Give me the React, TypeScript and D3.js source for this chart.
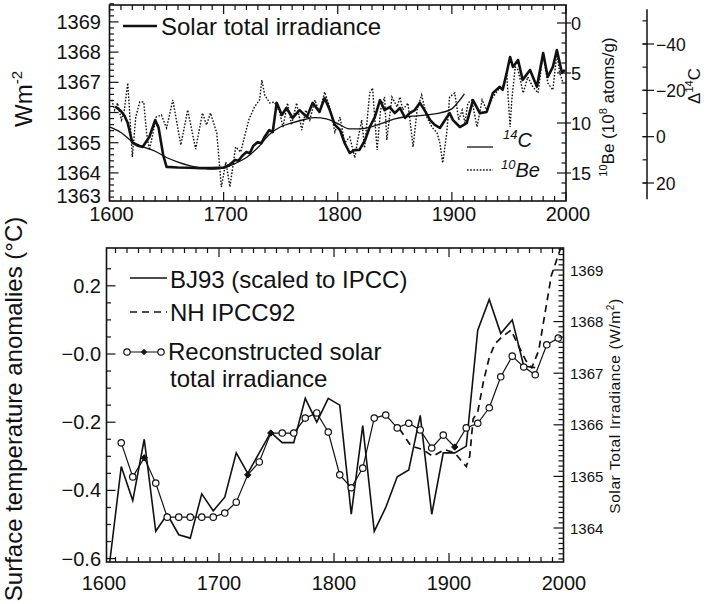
import React from "react";
import * as d3 from "d3";

// ---------- Upper panel data ----------
// Reconstructed solar total irradiance (W m^-2)
const solarIrradiance: [number, number][] = [
  [1605, 1366.2], [1610, 1366.05], [1613, 1365.9], [1616, 1365.65], [1620, 1365.0], [1625, 1364.9],
  [1629, 1364.86], [1635, 1365.2], [1640, 1365.75], [1643, 1365.5], [1647, 1364.6], [1650, 1364.2],
  [1660, 1364.18], [1670, 1364.17], [1680, 1364.16], [1690, 1364.16], [1700, 1364.18], [1705, 1364.26],
  [1710, 1364.43], [1713, 1364.4], [1716, 1364.55], [1720, 1364.69], [1723, 1364.65], [1726, 1364.9],
  [1730, 1365.02], [1733, 1364.98], [1736, 1365.2], [1740, 1365.42], [1743, 1365.35], [1746.5, 1366.32],
  [1751, 1365.92], [1755, 1366.15], [1760.5, 1365.82], [1766.5, 1366.08], [1773, 1365.85], [1778, 1366.32],
  [1784, 1366.02], [1788.5, 1366.48], [1793, 1366.08], [1797.5, 1365.59], [1802, 1365.42], [1806, 1364.99],
  [1810.5, 1364.66], [1815, 1364.76], [1819, 1364.76], [1824, 1365.09], [1828, 1365.52], [1832.5, 1365.85],
  [1837, 1366.41], [1841, 1366.08], [1845.5, 1366.18], [1850, 1365.98], [1854.5, 1366.15], [1859, 1365.82],
  [1863, 1365.98], [1867.5, 1366.08], [1872, 1366.32], [1876, 1366.08], [1881, 1365.75], [1885, 1365.59],
  [1889.5, 1365.49], [1894, 1365.75], [1898, 1365.98], [1901, 1365.75], [1907, 1365.52], [1913, 1365.65],
  [1918.5, 1366.41], [1924.5, 1365.98], [1930.5, 1366.02], [1936, 1366.65], [1942, 1366.85], [1944.5, 1366.75],
  [1948, 1367.31], [1951, 1367.84], [1953.5, 1367.51], [1958, 1367.74], [1962, 1367.08], [1968.5, 1367.41],
  [1974.5, 1366.85], [1980, 1367.97], [1984, 1367.18], [1988.5, 1367.51], [1992, 1368.07], [1996.5, 1367.31],
  [1999, 1367.41],
];

// Delta 14C (per mil), smoothed
const delta14C: [number, number][] = [
  [1600, -4.2], [1610, -1.8], [1620, 2.2], [1630, 4.5], [1640, 6.3], [1650, 9.0], [1660, 11.0],
  [1670, 12.5], [1680, 13.5], [1690, 14.0], [1700, 13.6], [1710, 11.6], [1720, 9.0], [1730, 4.7],
  [1740, -0.9], [1750, -4.3], [1760, -6.0], [1770, -7.3], [1780, -8.2], [1790, -7.7], [1800, -5.6],
  [1810, -3.4], [1820, -3.4], [1830, -4.3], [1840, -6.0], [1850, -7.7], [1860, -8.6], [1870, -9.0],
  [1880, -9.5], [1890, -10.3], [1900, -12.0], [1905, -14.6], [1911, -18.5],
];

// 10Be concentration (10^8 atoms/g)
const beryllium10: [number, number][] = [
  [1602, 7.7], [1604.5, 8.7], [1607, 8.0], [1610.5, 9.7], [1613, 8.7], [1616, 6.0], [1617.5, 8.7],
  [1620, 13.4], [1623, 9.4], [1626.5, 7.9], [1630, 7.9], [1632.5, 11.0], [1635, 12.7], [1641, 9.4],
  [1645.5, 9.2], [1650, 10.5], [1655.5, 7.7], [1662.5, 12.2], [1668.5, 8.7], [1675.5, 12.6], [1681.5, 9.0],
  [1685, 10.2], [1688.5, 9.0], [1694, 11.0], [1698, 16.4], [1702, 13.9], [1705.5, 16.4], [1710.5, 12.4],
  [1715, 12.9], [1722, 9.7], [1727, 8.4], [1731.5, 7.7], [1733.5, 5.7], [1736, 7.2], [1740.5, 8.0],
  [1744.5, 7.9], [1749, 8.9], [1752, 10.4], [1756, 8.0], [1759.5, 10.2], [1764, 8.0], [1768.5, 10.7],
  [1772, 8.7], [1775.5, 9.7], [1780, 7.7], [1784, 9.0], [1788.5, 6.9], [1793, 8.4], [1797.5, 10.9],
  [1802, 9.4], [1806, 12.0], [1810.5, 11.4], [1815, 13.5], [1817.5, 11.7], [1821, 9.7], [1823.5, 12.5],
  [1828, 7.0], [1830.5, 6.5], [1833, 10.4], [1834.5, 12.7], [1837.5, 8.7], [1841, 7.4], [1843, 11.7],
  [1847.5, 7.4], [1852, 8.4], [1854.5, 7.4], [1857, 8.7], [1861.5, 8.0], [1866, 12.4], [1869.5, 8.7],
  [1873.5, 7.2], [1878, 9.4], [1882.5, 10.4], [1887, 11.0], [1889.5, 12.0], [1892, 14.0], [1895.5, 11.0],
  [1898, 7.4], [1902.5, 7.0], [1906, 9.7], [1909, 8.7], [1911.5, 10.0], [1914, 8.0], [1917.5, 7.7],
  [1922, 10.4], [1926.5, 7.7], [1930.5, 8.7], [1936, 7.4], [1940.5, 6.7], [1944.5, 6.4], [1948, 5.0],
  [1951, 10.4], [1952.5, 7.7], [1955.5, 4.4], [1958, 4.7], [1962.5, 7.0], [1966.5, 5.4], [1971, 6.4],
  [1975.5, 7.0], [1980, 3.0], [1984, 6.0], [1988.5, 6.7], [1992, 3.0], [1994.5, 5.0], [1997.5, 6.0],
];

// ---------- Lower panel data ----------
// BJ93 decadal temperature anomalies (scaled to IPCC), degC
const bj93: [number, number][] = [
  [1605, -0.61], [1615, -0.33], [1625, -0.43], [1635, -0.25], [1645, -0.52], [1655, -0.47],
  [1665, -0.53], [1675, -0.54], [1685, -0.41], [1695, -0.46], [1705, -0.42], [1715, -0.29],
  [1725, -0.35], [1735, -0.29], [1745, -0.23], [1755, -0.26], [1765, -0.26], [1775, -0.13],
  [1785, -0.2], [1795, -0.13], [1805, -0.15], [1815, -0.47], [1825, -0.21], [1835, -0.52],
  [1845, -0.45], [1855, -0.36], [1865, -0.34], [1875, -0.18], [1885, -0.47], [1895, -0.29],
  [1905, -0.29], [1915, -0.27], [1925, 0.07], [1935, 0.16], [1945, 0.06], [1955, 0.1],
  [1965, -0.035], [1975, -0.04],
];

// NH IPCC92 temperature anomalies, degC
const nhIpcc92: [number, number][] = [
  [1857, -0.22], [1867, -0.27], [1877, -0.28], [1886, -0.3], [1896, -0.28], [1905, -0.29],
  [1910, -0.31], [1915, -0.33], [1918, -0.3], [1921, -0.19], [1925, -0.17], [1930, -0.08],
  [1935, -0.01], [1940, 0.03], [1946, 0.05], [1954, 0.07], [1961, 0.02], [1967, -0.02],
  [1972, -0.04], [1978, 0.01], [1984, 0.13], [1989, 0.23], [1993, 0.27], [1997, 0.31],
];

// Decadal reconstructed solar total irradiance, W m^-2
const reconYears = d3.range(1615, 2000, 10);
const reconValues = [
  1365.65, 1364.99, 1365.36, 1364.87, 1364.21, 1364.21, 1364.21, 1364.21, 1364.21, 1364.29,
  1364.5, 1365.03, 1365.28, 1365.84, 1365.84, 1365.84, 1366.13, 1366.23, 1365.86, 1365.03,
  1364.78, 1365.16, 1366.13, 1366.19, 1365.94, 1366.03, 1365.9, 1365.55, 1365.8, 1365.57,
  1365.94, 1366.03, 1366.33, 1366.93, 1367.33, 1367.12, 1366.97, 1367.55, 1367.68,
];
const reconFilledYears = [1635, 1725, 1745, 1905];

// ---------- Axis ticks ----------
const yearTicks = [1600, 1700, 1800, 1900, 2000];
const wmTicks = [1363, 1364, 1365, 1366, 1367, 1368, 1369];
const beTicks = [0, 5, 10, 15];
const c14Ticks = [-40, -20, 0, 20];
const c14TickLabels = ["\u221240", "\u221220", "0", "20"];
const tempTicks = [0.2, 0, -0.2, -0.4, -0.6];
const tempTickLabels = ["0.2", "\u22120.0", "\u22120.2", "\u22120.4", "\u22120.6"];
const tsiTicks = [1364, 1365, 1366, 1367, 1368, 1369];

const FONT = "'Liberation Sans', Arial, Helvetica, sans-serif";
const INK = "#111";

// frame geometry
const T = { left: 109.5, right: 566, top: 5, bottom: 201 };
const B = { left: 106.5, right: 563.5, top: 248, bottom: 562 };
const C14_AXIS_X = 647;

export default function App() {
  // upper panel scales
  const tx = d3.scaleLinear().domain([1600, 2000]).range([T.left, T.right]);
  const yWm = d3.scaleLinear().domain([1363.07, 1369.56]).range([T.bottom, T.top]);
  const yBe = d3.scaleLinear().domain([0, 15]).range([23, 173]);
  const yC14 = d3.scaleLinear().domain([-40, 20]).range([44, 183]);

  // lower panel scales
  const bx = d3.scaleLinear().domain([1600, 2000]).range([104, 564]);
  const yTemp = d3.scaleLinear().domain([-0.6, 0.2]).range([558.6, 285.8]);
  const yTsi = d3.scaleLinear().domain([1364, 1369]).range([528, 270]);

  const solarPath = d3.line<[number, number]>().x((d) => tx(d[0])).y((d) => yWm(d[1]))(solarIrradiance)!;
  const c14Path = d3
    .line<[number, number]>()
    .curve(d3.curveMonotoneX)
    .x((d) => tx(d[0]))
    .y((d) => yC14(d[1]))(delta14C)!;
  const bePath = d3.line<[number, number]>().x((d) => tx(d[0])).y((d) => yBe(d[1]))(beryllium10)!;

  const bjPath = d3.line<[number, number]>().x((d) => bx(d[0])).y((d) => yTemp(d[1]))(bj93)!;
  const ipccPath = d3.line<[number, number]>().x((d) => bx(d[0])).y((d) => yTemp(d[1]))(nhIpcc92)!;
  const reconPts = reconYears.map((yr, i) => [bx(yr), yTsi(reconValues[i]), yr] as [number, number, number]);
  const reconPath = d3.line<[number, number, number]>().x((d) => d[0]).y((d) => d[1])(reconPts)!;

  const near = (v: number, step: number) => Math.abs(v / step - Math.round(v / step)) < 1e-6;

  // tick sets
  const decades = d3.range(1600, 2001, 10);
  const wmMinor = d3.range(0, 33).map((i) => 1363.2 + i * 0.2);
  const beMinor = d3.range(-1, 18);
  const c14Minor = d3.range(-50, 21, 10);
  const tempMinor = d3.range(0, 18).map((i) => -0.6 + i * 0.05);
  const tsiMinor = d3.range(0, 61).map((i) => 1363.4 + i * 0.1);

  const line = (x1: number, y1: number, x2: number, y2: number, key: string, w = 1.2) => (
    <line key={key} x1={x1} y1={y1} x2={x2} y2={y2} stroke={INK} strokeWidth={w} />
  );

  const diamond = (x: number, y: number, r: number) => `M${x},${y - r}L${x + r},${y}L${x},${y + r}L${x - r},${y}Z`;

  return (
    <svg
      width={706}
      height={604}
      viewBox="0 0 706 604"
      style={{ position: "absolute", left: 0, top: 0, display: "block" }}
      fontFamily={FONT}
    >
      <rect x={0} y={0} width={706} height={604} fill="#fff" />
      <defs>
        <clipPath id="clipTop">
          <rect x={T.left} y={T.top} width={T.right - T.left} height={T.bottom - T.top} />
        </clipPath>
        <clipPath id="clipBottom">
          <rect x={B.left} y={B.top} width={B.right - B.left} height={B.bottom - B.top} />
        </clipPath>
      </defs>

      {/* ================= Upper panel ================= */}
      <g clipPath="url(#clipTop)" fill="none">
        <path d={bePath} stroke={INK} strokeWidth={1.4} strokeDasharray="1.6 1.6" />
        <path d={c14Path} stroke={INK} strokeWidth={1.3} />
        <path d={solarPath} stroke={INK} strokeWidth={2.6} strokeLinejoin="round" />
      </g>
      <rect x={T.left} y={T.top} width={T.right - T.left} height={T.bottom - T.top} fill="none" stroke={INK} strokeWidth={1.6} />

      {/* year ticks top & bottom */}
      {decades.map((yr) => {
        const x = tx(yr);
        const len = yr % 100 === 0 ? 9 : 5;
        return (
          <g key={`tt${yr}`}>
            {line(x, T.top, x, T.top + len, `a${yr}`)}
            {line(x, T.bottom, x, T.bottom - len, `b${yr}`)}
          </g>
        );
      })}
      {/* left irradiance axis ticks */}
      {wmMinor.map((v) => {
        const y = yWm(v);
        const major = near(v, 1);
        return line(T.left, y, T.left + (major ? 9 : 4.5), y, `wm${v.toFixed(1)}`);
      })}
      {wmTicks.map((v) => (
        <text key={`wl${v}`} x={101} y={Math.min(yWm(v) + 7, 203)} fontSize={20} textAnchor="end" fill={INK}>
          {v}
        </text>
      ))}
      {/* right 10Be axis ticks */}
      {beMinor.map((v) => {
        const y = yBe(v);
        const major = v % 5 === 0;
        return major
          ? line(T.right - 9, y, T.right + 5, y, `be${v}`)
          : line(T.right - 4.5, y, T.right, y, `be${v}`);
      })}
      {beTicks.map((v) => (
        <text key={`bl${v}`} x={571} y={yBe(v) + 6.5} fontSize={18} fill={INK}>
          {v}
        </text>
      ))}
      {/* separate Delta 14C axis */}
      {line(C14_AXIS_X, yC14(-55), C14_AXIS_X, yC14(27), "c14axis", 1.5)}
      {c14Minor.map((v) => line(C14_AXIS_X - 4.5, yC14(v), C14_AXIS_X, yC14(v), `c14m${v}`))}
      {c14Ticks.map((v, i) => (
        <g key={`c14t${v}`}>
          {line(C14_AXIS_X - 4.5, yC14(v), C14_AXIS_X + 7, yC14(v), `c14M${v}`)}
          <text x={C14_AXIS_X + 9} y={yC14(v) + 6.5} fontSize={17.5} fill={INK}>
            {c14TickLabels[i]}
          </text>
        </g>
      ))}
      {/* year labels (upper panel) */}
      {yearTicks.map((yr) => (
        <text key={`ty${yr}`} x={tx(yr) + 2} y={221} fontSize={20} textAnchor="middle" fill={INK}>
          {yr}
        </text>
      ))}

      {/* axis titles (upper panel) */}
      <text transform="translate(32,99) rotate(-90)" fontSize={24} textAnchor="middle" fill={INK}>
        Wm<tspan fontSize={15} dy={-10}>-2</tspan>
      </text>
      <text transform="translate(614,107) rotate(-90)" fontSize={17} textAnchor="middle" fill={INK}>
        <tspan fontSize={11} dy={-7}>10</tspan>
        <tspan dy={7}>Be (10</tspan>
        <tspan fontSize={11} dy={-7}>8</tspan>
        <tspan dy={7}> atoms/g)</tspan>
      </text>
      <text transform="translate(700,86) rotate(-90)" fontSize={17} textAnchor="middle" fill={INK}>
        {"\u0394"}
        <tspan fontSize={11} dy={-7}>14</tspan>
        <tspan dy={7}>C</tspan>
      </text>

      {/* legend (upper panel) */}
      {line(123, 26, 157, 26, "legSolar", 2.6)}
      <text x={161} y={35} fontSize={24} fill={INK}>
        Solar total irradiance
      </text>
      {line(467, 147, 493, 147, "leg14c", 1.3)}
      <text x={503} y={147} fontSize={20} fontStyle="italic" fill={INK}>
        <tspan fontSize={13} dy={-8}>14</tspan>
        <tspan dy={8}>C</tspan>
      </text>
      <line x1={467} y1={170} x2={493} y2={170} stroke={INK} strokeWidth={1.4} strokeDasharray="1.6 1.6" />
      <text x={501} y={177} fontSize={20} fontStyle="italic" fill={INK}>
        <tspan fontSize={13} dy={-8}>10</tspan>
        <tspan dy={8}>Be</tspan>
      </text>

      {/* ================= Lower panel ================= */}
      <g clipPath="url(#clipBottom)" fill="none">
        <path d={ipccPath} stroke={INK} strokeWidth={1.7} strokeDasharray="7 5" />
        <path d={bjPath} stroke={INK} strokeWidth={1.6} strokeLinejoin="miter" />
        <path d={reconPath} stroke={INK} strokeWidth={1.2} />
        {reconPts.map(([x, y, yr]) =>
          reconFilledYears.includes(yr) ? (
            <path key={`rd${yr}`} d={diamond(x, y, 3.2)} fill={INK} stroke={INK} strokeWidth={1} />
          ) : (
            <circle key={`rc${yr}`} cx={x} cy={y} r={3.2} fill="#fff" stroke={INK} strokeWidth={1.2} />
          )
        )}
      </g>
      <rect x={B.left} y={B.top} width={B.right - B.left} height={B.bottom - B.top} fill="none" stroke={INK} strokeWidth={1.6} />

      {/* year ticks top & bottom */}
      {decades
        .filter((yr) => bx(yr) >= B.left && bx(yr) <= B.right)
        .map((yr) => {
          const x = bx(yr);
          const len = yr % 100 === 0 ? 9 : 5;
          return (
            <g key={`bt${yr}`}>
              {line(x, B.top, x, B.top + len, `c${yr}`)}
              {line(x, B.bottom, x, B.bottom - len, `d${yr}`)}
            </g>
          );
        })}
      {/* left temperature axis */}
      {tempMinor.map((v) => {
        const y = yTemp(v);
        const major = near(v, 0.2);
        return line(B.left, y, B.left + (major ? 9 : 4.5), y, `tm${v.toFixed(2)}`);
      })}
      {tempTicks.map((v, i) => (
        <text key={`tl${v}`} x={101} y={yTemp(v) + 7} fontSize={20} textAnchor="end" fill={INK}>
          {tempTickLabels[i]}
        </text>
      ))}
      {/* right irradiance axis */}
      {tsiMinor.map((v) => {
        const y = yTsi(v);
        if (y < B.top + 1 || y > B.bottom - 1) return null;
        const major = near(v, 1);
        return line(B.right - (major ? 10 : 5), y, B.right, y, `ts${v.toFixed(1)}`);
      })}
      {tsiTicks.map((v) => (
        <text key={`tsl${v}`} x={570} y={yTsi(v) + 5.5} fontSize={15} fill={INK}>
          {v}
        </text>
      ))}
      {yearTicks.map((yr) => (
        <text key={`by${yr}`} x={bx(yr)} y={590} fontSize={20} textAnchor="middle" fill={INK}>
          {yr}
        </text>
      ))}

      {/* axis titles (lower panel) */}
      <text transform="translate(22,409) rotate(-90)" fontSize={24} textAnchor="middle" fill={INK}>
        Surface temperature anomalies (°C)
      </text>
      <text transform="translate(620,406) rotate(-90)" fontSize={15.5} textAnchor="middle" fill={INK} letterSpacing={0.6}>
        Solar Total Irradiance (W/m<tspan fontSize={10} dy={-6}>2</tspan>
        <tspan dy={6}>)</tspan>
      </text>

      {/* legend (lower panel) */}
      {line(130, 278, 167, 278, "legBj", 1.6)}
      <text x={170} y={288} fontSize={24} fill={INK}>
        BJ93 (scaled to IPCC)
      </text>
      <line x1={130} y1={312} x2={167} y2={312} stroke={INK} strokeWidth={1.7} strokeDasharray="7 5" />
      <text x={170} y={321} fontSize={24} fill={INK}>
        NH IPCC92
      </text>
      {line(127, 352, 161, 352, "legRec", 1.2)}
      <circle cx={127} cy={352} r={3.2} fill="#fff" stroke={INK} strokeWidth={1.2} />
      <path d={diamond(144, 352, 3.2)} fill={INK} />
      <circle cx={161} cy={352} r={3.2} fill="#fff" stroke={INK} strokeWidth={1.2} />
      <text x={168} y={360} fontSize={24} fill={INK}>
        Reconstructed solar
      </text>
      <text x={170} y={387} fontSize={24} fill={INK}>
        total irradiance
      </text>
    </svg>
  );
}
